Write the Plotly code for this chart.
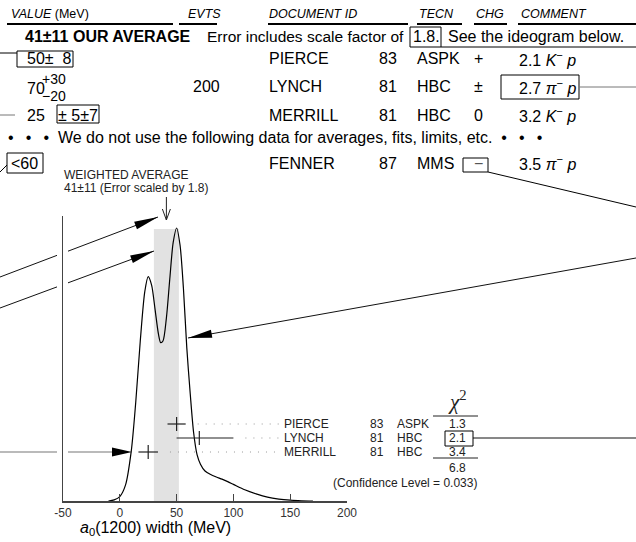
import plotly.graph_objects as go

W, H = 636, 542

# ---------------- data ----------------
ideo_x = [-10, -5, 0, 5, 10, 14, 18, 22, 25, 28, 31, 34, 36, 38, 41, 44, 47, 50,
          53, 56, 59, 62, 65, 68, 71, 75, 80, 85, 90, 95, 100, 110, 120, 130,
          140, 150, 160, 170]
ideo_y = [0.000, 0.004, 0.016, 0.058, 0.180, 0.360, 0.585, 0.767, 0.822, 0.791,
          0.703, 0.612, 0.580, 0.586, 0.670, 0.813, 0.947, 1.000, 0.938, 0.779,
          0.560, 0.393, 0.250, 0.170, 0.135, 0.110, 0.097, 0.088, 0.080, 0.071,
          0.061, 0.041, 0.026, 0.014, 0.007, 0.003, 0.001, 0.000]

avg_value = 41
avg_error = 11
scale_factor = "1.8"

meas_names = ["PIERCE", "LYNCH", "MERRILL"]
meas_years = ["83", "81", "81"]
meas_tecn = ["ASPK", "HBC", "HBC"]
meas_value = [50, 70, 25]
meas_err_plus = [8, 30, 8.6]
meas_err_minus = [8, 20, 8.6]
meas_chi2 = ["1.3", "2.1", "3.4"]
chi2_total = "6.8"
conf_level = "0.033"

xtick_vals = [-50, 0, 50, 100, 150, 200]
xtick_text = ["-50", "0", "50", "100", "150", "200"]

header_labels = ["<i>VALUE</i> (MeV)", "<i>EVTS</i>", "<i>DOCUMENT ID</i>",
                 "<i>TECN</i>", "<i>CHG</i>", "<i>COMMENT</i>"]
table_ids = ["PIERCE", "LYNCH", "MERRILL", "FENNER"]
table_years = ["83", "81", "81", "87"]
table_tecn = ["ASPK", "HBC", "HBC", "MMS"]
table_chg = ["+", "±", "0", "−"]
table_comment = ["2.1 <i>K</i><sup>−</sup> <i>p</i>", "2.7 <i>π</i><sup>−</sup> <i>p</i>",
                 "3.2 <i>K</i><sup>−</sup> <i>p</i>", "3.5 <i>π</i><sup>−</sup> <i>p</i>"]

# ---------------- geometry (layout) ----------------
XL, XR = 63, 347          # pixel span of x axis
YB, YT = 501, 216         # pixel span of y axis
XMIN, XMAX = -50, 200
PXU = 273.0               # pixels per unit of ideogram height
YMAX = (YB - YT) / PXU


def px(x):
    return x / W


def py(y):
    return 1 - y / H


def data_x_from_px(p):
    return XMIN + (p - XL) * (XMAX - XMIN) / (XR - XL)


def ydata_from_px(p):
    return (YB - p) / PXU


shapes = []
anns = []

TFONT = "Liberation Sans"
PFONT = "Liberation Sans"


def seg(x0, y0, x1, y1, color="#000", width=1, dash=None):
    ln = dict(color=color, width=width)
    if dash:
        ln["dash"] = dash
    shapes.append(dict(type="line", xref="paper", yref="paper",
                       x0=px(x0), y0=py(y0), x1=px(x1), y1=py(y1), line=ln))


def box(x0, y0, x1, y1, color="#000", width=1):
    shapes.append(dict(type="rect", xref="paper", yref="paper",
                       x0=px(x0), y0=py(y0), x1=px(x1), y1=py(y1),
                       line=dict(color=color, width=width)))


def head(tx, ty, fx, fy, L=24, Wd=8, color="#000"):
    dx, dy = tx - fx, ty - fy
    n = (dx * dx + dy * dy) ** 0.5
    ux, uy = dx / n, dy / n
    bx, by = tx - L * ux, ty - L * uy
    nx, ny = -uy, ux
    pts = [(tx, ty), (bx + nx * Wd / 2, by + ny * Wd / 2), (bx - nx * Wd / 2, by - ny * Wd / 2)]
    path = "M " + " L ".join(f"{px(a):.5f},{py(b):.5f}" for a, b in pts) + " Z"
    shapes.append(dict(type="path", xref="paper", yref="paper", path=path,
                       fillcolor=color, line=dict(width=0)))


def gapped(x0, y0, x1, y1, gap=(57, 68), color="#000", width=1):
    def yat(x):
        return y0 + (y1 - y0) * (x - x0) / (x1 - x0)
    seg(x0, y0, gap[0], yat(gap[0]), color, width)
    seg(gap[1], yat(gap[1]), x1, y1, color, width)


def T(text, x, y, size=16, color="#000", font=TFONT, xanchor="left", yanchor="middle"):
    anns.append(dict(text=text, x=px(x), y=py(y), xref="paper", yref="paper",
                     showarrow=False, xanchor=xanchor, yanchor=yanchor,
                     font=dict(family=font, size=size, color=color)))


# ---------------- table header ----------------
head_x = [9, 186, 267, 417, 474, 519]
for lab, hx in zip(header_labels, head_x):
    T(lab, hx, 14, size=12.5)
for a, b in [(7, 173), (179, 217), (268, 408), (417, 462), (474, 507), (518, 636)]:
    seg(a, 24, b, 24, width=2)

# average row
T("<b>41±11 OUR AVERAGE</b>", 23, 37, size=16)
T("Error includes scale factor of", 205, 37, size=15.5)
box(410, 27, 441, 47)
T(scale_factor + ".", 411, 37, size=16)
seg(441, 47, 636, 47)
T("See the ideogram below.", 446, 37, size=16)

# measurement rows
row_ty = [59, 87, 115, 163]
for i, ry in enumerate(row_ty):
    T(table_ids[i], 267, ry, size=16)
    T(table_years[i], 377, ry, size=16)
    T(table_tecn[i], 415, ry, size=16)
    T(table_comment[i], 517, ry, size=16)
    T(table_chg[i], 478, ry, size=16, xanchor="center",
      color="#555" if i == 3 else "#000")

# PIERCE value
seg(0, 53, 17, 53)
box(17, 51, 73, 67)
T("50±\u00a0\u00a08", 25, 59, size=16)
# LYNCH value
T("70", 25, 88, size=16)
T("+30", 40, 79, size=14)
T("−20", 40, 96, size=14)
T("200", 191, 87, size=16)
box(501, 75, 579, 99)
seg(579, 87, 636, 87, color="#777")
# MERRILL value
seg(0, 115, 15, 115, color="#777")
T("25", 25, 115, size=16)
box(57, 105, 99, 123)
T("±\u00a05±7", 56, 115, size=16)

SP = "\u00a0\u00a0\u2009"
SW = "\u00a0\u00a0"
T("•" + SP + "•" + SP + "•" + SW +
  "We do not use the following data for averages, fits, limits, etc." +
  SW + "•" + SP + "•" + SP + "•", 6, 137, size=16)

# FENNER row
box(7, 153, 43, 173)
T("&lt;60", 9, 163, size=16)
seg(7, 165, 0, 172)
box(463, 158, 488, 172)
seg(488, 172, 636, 207)

# ---------------- ideogram labels ----------------
T("WEIGHTED AVERAGE", 62, 175, size=12, color="#222", font=PFONT)
T(f"{avg_value}±{avg_error} (Error scaled by {scale_factor})", 62, 188, size=12,
  color="#222", font=PFONT)

# weighted-average arrow (data x)
shapes.append(dict(type="line", xref="x", yref="paper", x0=avg_value, x1=avg_value,
                   y0=py(197), y1=py(220), line=dict(color="#222", width=1)))
for dxp in (-4, 4):
    shapes.append(dict(type="line", xref="x", yref="paper",
                       x0=avg_value, y0=py(220),
                       x1=avg_value + dxp * (XMAX - XMIN) / (XR - XL), y1=py(209),
                       line=dict(color="#222", width=1)))

# band
shapes.append(dict(type="rect", xref="x", yref="y", x0=avg_value - avg_error,
                   x1=avg_value + avg_error, y0=0, y1=0.996, fillcolor="#e2e2e2",
                   line=dict(width=0), layer="below"))

# long arrows
gapped(0, 277, 158, 217, color="#111")
head(158, 217, 0, 277, L=24, Wd=8)
gapped(0, 308, 154, 251, color="#111")
head(154, 251, 0, 308, L=24, Wd=8)
seg(636, 258, 188, 338, color="#111")
head(188, 338, 636, 258, L=24, Wd=8)
seg(0, 452, 57, 452, color="#777", width=1.2)
seg(68, 452, 115, 452, color="#777", width=1.2)
head(132, 452, 0, 452, L=20, Wd=9)
seg(473, 438, 636, 438, color="#111")

# right-hand labels
row_px = [424, 438, 452]
for i, rp in enumerate(row_px):
    T(meas_names[i], 282, rp, size=12, color="#222", font=PFONT)
    T(meas_years[i], 368, rp, size=12, color="#222", font=PFONT)
    T(meas_tecn[i], 395, rp, size=12, color="#222", font=PFONT)
    T(meas_chi2[i], 458, rp, size=12, color="#222", font=PFONT, xanchor="center")
box(445, 431, 473, 446)
T("<i>χ</i><sup>2</sup>", 457, 400, size=21, color="#222", font="Liberation Serif",
  xanchor="center")
seg(433, 416, 478, 416, color="#222")
seg(433, 458, 478, 458, color="#222")
T(chi2_total, 458, 468, size=12, color="#222", font=PFONT, xanchor="center")
T(f"(Confidence Level = {conf_level})", 405, 483, size=12, color="#222", font=PFONT,
  xanchor="center")

T("<i>a</i><sub>0</sub>(1200) width (MeV)", 78, 528, size=16)

# ---------------- figure ----------------
fig = go.Figure()
fig.add_trace(go.Scatter(x=ideo_x, y=ideo_y, mode="lines",
                         line=dict(color="#000", width=1.2, shape="spline", smoothing=0.8),
                         hoverinfo="skip", showlegend=False))

row_y = [ydata_from_px(p) for p in row_px]
fig.add_trace(go.Scatter(x=meas_value, y=row_y, mode="markers",
                         marker=dict(symbol="line-ns", size=10, color="#222",
                                     line=dict(width=1.2, color="#222")),
                         error_x=dict(type="data", symmetric=False, array=meas_err_plus,
                                      arrayminus=meas_err_minus, width=0, thickness=1.2,
                                      color="#222"),
                         showlegend=False, hoverinfo="skip"))

gap_units = data_x_from_px(XL + 12) - XMIN
dot_end = data_x_from_px(279)
for v, ep, ry in zip(meas_value, meas_err_plus, row_y):
    fig.add_trace(go.Scatter(x=[v + ep + gap_units, dot_end], y=[ry, ry], mode="lines",
                             line=dict(color="#999", width=1, dash="1px,7px"),
                             showlegend=False, hoverinfo="skip"))

fig.update_layout(
    width=W, height=H, autosize=False,
    margin=dict(l=0, r=0, t=0, b=0, pad=0, autoexpand=False),
    paper_bgcolor="white", plot_bgcolor="white",
    xaxis=dict(domain=[XL / W, XR / W], range=[XMIN, XMAX], showline=True,
               linecolor="#444", linewidth=1.5, ticks="inside", ticklen=7,
               tickcolor="#444", tickwidth=1.2, tickvals=xtick_vals, ticktext=xtick_text,
               tickfont=dict(family=PFONT, size=12, color="#333"),
               showgrid=False, zeroline=False, fixedrange=True, automargin=False),
    yaxis=dict(domain=[(H - YB) / H, (H - YT) / H], range=[0, YMAX], showline=True,
               linecolor="#444", linewidth=1.2, ticks="", showticklabels=False,
               showgrid=False, zeroline=False, fixedrange=True, automargin=False),
    shapes=shapes, annotations=anns, showlegend=False,
)

post = (
    "document.body.style.margin='0px';document.body.style.padding='0px';"
    "document.documentElement.style.overflow='hidden';document.body.style.overflow='hidden';"
)
fig.write_html("out.html", config={"displayModeBar": False, "responsive": False},
               post_script=post)
